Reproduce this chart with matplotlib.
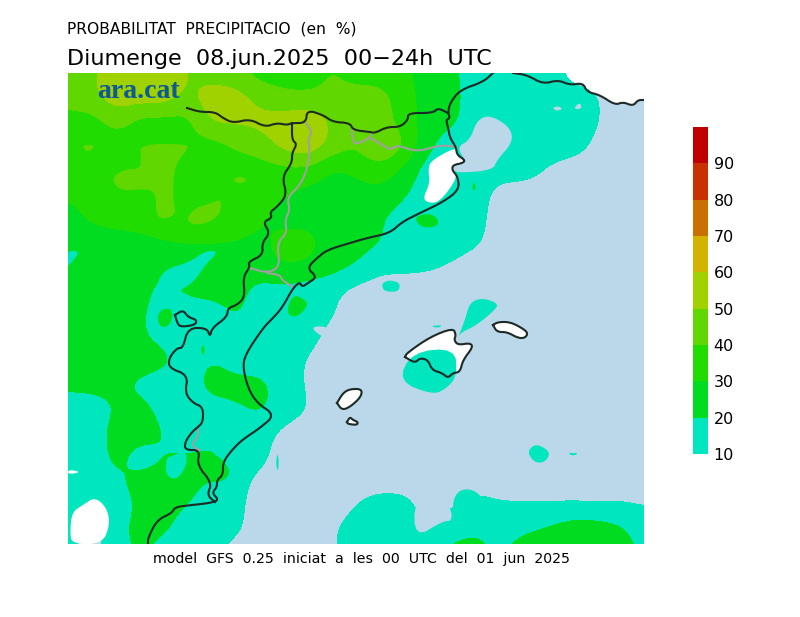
"""Precipitation probability map, rebuilt from values read off the picture."""

import matplotlib
matplotlib.use("Agg")
import matplotlib.pyplot as plt
from matplotlib.colors import ListedColormap
import numpy as np

# map coordinates of the grid nodes
grid_x = [68, 92, 116, 140, 164, 188, 212, 236, 260, 284, 308, 332, 356,
          380, 404, 428, 452, 476, 500, 524, 548, 572, 596, 620, 644]
grid_y = [73, 97, 121, 145, 169, 193, 217, 241, 265, 289, 313,
          337, 361, 385, 409, 433, 457, 481, 505, 529, 553]

# probability (%) per node, row by row from the north
prob = [
    [45, 48, 56, 56, 56, 50, 44, 42, 35, 35, 35, 41, 35, 35, 32, 25, 22, 15, 15, 15, 15, 6, 5, 5, 5],
    [45, 48, 56, 56, 56, 47, 57, 55, 47, 42, 41, 42, 45, 44, 35, 25, 23, 15, 15, 15, 15, 15, 11, 5, 5],
    [35, 35, 44, 35, 35, 36, 52, 52, 53, 55, 59, 48, 45, 45, 35, 25, 22, 15, 15, 15, 15, 15, 11, 5, 5],
    [35, 35, 35, 38, 38, 38, 35, 41, 45, 54, 59, 47, 40, 53, 41, 22, 14, 15, 15, 15, 15, 15, 8, 5, 5],
    [35, 35, 36, 36, 36, 35, 35, 35, 35, 37, 38, 28, 32, 36, 28, 14, 14, 15, 15, 15, 9, 5, 5, 5, 5],
    [31, 33, 36, 36, 36, 33, 34, 34, 33, 31, 26, 26, 26, 28, 21, 14, 13, 15, 6, 5, 5, 5, 5, 5, 5],
    [27, 32, 35, 35, 36, 34, 34, 35, 31, 27, 27, 25, 25, 21, 15, 15, 15, 14, 5, 5, 5, 5, 5, 5, 5],
    [24, 25, 25, 27, 30, 32, 32, 30, 28, 33, 33, 26, 24, 21, 14, 15, 15, 12, 5, 5, 5, 5, 5, 5, 5],
    [24, 25, 25, 25, 22, 21, 21, 24, 27, 31, 30, 25, 20, 13, 13, 12, 9, 5, 5, 5, 5, 5, 5, 5, 5],
    [25, 25, 25, 24, 16, 23, 25, 24, 16, 17, 14, 12, 7, 5, 5, 5, 5, 5, 5, 5, 5, 5, 5, 5, 5],
    [25, 25, 25, 21, 16, 14, 14, 22, 14, 14, 14, 11, 5, 5, 5, 5, 5, 5, 5, 5, 5, 5, 5, 5, 5],
    [25, 25, 25, 21, 17, 14, 13, 15, 15, 15, 13, 7, 5, 5, 5, 5, 5, 5, 5, 5, 5, 5, 5, 5, 5],
    [25, 25, 25, 25, 23, 15, 21, 15, 13, 14, 9, 5, 5, 5, 5, 5, 5, 5, 5, 5, 5, 5, 5, 5, 5],
    [23, 24, 23, 17, 14, 15, 24, 24, 24, 14, 9, 5, 5, 5, 5, 5, 5, 5, 5, 5, 5, 5, 5, 5, 5],
    [13, 13, 21, 24, 16, 15, 15, 18, 22, 15, 10, 5, 5, 5, 5, 5, 5, 5, 5, 5, 5, 5, 5, 5, 5],
    [13, 13, 25, 25, 20, 14, 14, 14, 14, 7, 5, 5, 5, 5, 5, 5, 5, 5, 5, 5, 5, 5, 5, 5, 5],
    [13, 13, 24, 14, 20, 21, 24, 15, 13, 5, 5, 5, 5, 5, 5, 5, 5, 5, 5, 5, 5, 5, 5, 5, 5],
    [13, 13, 18, 24, 24, 24, 17, 14, 7, 5, 5, 5, 5, 5, 5, 5, 5, 5, 5, 5, 5, 5, 5, 5, 5],
    [12, 8, 14, 22, 24, 20, 15, 13, 5, 5, 5, 5, 10, 15, 14, 5, 9, 14, 11, 11, 10, 10.5, 9.5, 10.5, 9.5],
    [11, 5, 15, 25, 22, 14, 14, 12, 5, 5, 5, 9, 14, 15, 15, 10, 15, 19, 15, 18, 21, 26, 26, 22, 15],
    [14, 7, 15, 22, 14, 14, 12, 6, 5, 5, 5, 8, 15, 15, 15, 15, 24, 24, 18, 26, 28, 28, 31, 25, 18],
]

levels = [10, 20, 30, 40, 50, 60, 70, 80, 90, 100]
tick_labels = [10, 20, 30, 40, 50, 60, 70, 80, 90]
band_colors = ["#00e6be", "#00dc20", "#20dc00", "#60d800", "#a0d200",
               "#d2b400", "#c87000", "#c83200", "#c00000"]
SEA = "#bbd7ea"
TEAL = band_colors[0]
GREEN = band_colors[1]
LIGHT_GREEN = band_colors[3]

# land where the probability stays below 10 %
land_north = [(513, 73), (527, 75), (543, 84), (558, 80), (570, 85), (583, 83), (587, 92), (600, 95),
              (615, 105), (623, 102), (633, 106), (638, 100), (644, 100), (644, 73)]
delta_patch = [(456, 147), (432, 160), (428, 168), (430, 183), (423, 198), (428, 203), (440, 202),
               (458, 177), (452, 170), (453, 165), (463, 163), (465, 160), (457, 155)]
southwest_patch = [(70, 532), (72, 512), (83, 505), (95, 497), (107, 508), (110, 525), (102, 544), (72, 544)]
west_sliver = [(68, 470), (78, 471), (78, 473), (68, 474)]
mallorca = [(405, 357), (407, 353), (430, 337), (453, 328), (456, 335), (454, 340), (458, 345), (470, 343),
            (473, 347), (463, 360), (460, 372), (453, 373), (448, 378), (442, 373), (432, 370), (428, 360),
            (420, 358), (415, 363), (405, 357)]
menorca = [(493, 325), (498, 322), (510, 322), (522, 328), (528, 333), (525, 338), (518, 338), (507, 332),
           (497, 332), (493, 325)]
ibiza = [(337, 403), (343, 393), (350, 389), (362, 389), (361, 397), (350, 407), (342, 410), (337, 403)]
formentera = [(347, 422), (350, 417), (353, 420), (358, 422), (357, 425), (348, 424), (347, 422)]

# small areas too fine for the grid
mallorca_teal = [(398, 381), (412, 352), (455, 348), (457, 376), (447, 388), (433, 395)]
teal_blobs = [
    [(457, 340), (465, 320), (470, 302), (483, 298), (497, 303), (497, 308), (477, 325), (460, 333)],
    [(382, 283), (390, 280), (400, 283), (399, 291), (390, 292), (383, 290)],
    [(527, 452), (535, 444), (545, 448), (550, 454), (545, 462), (535, 463)],
    [(567, 453), (579, 453), (573, 456)],
    [(430, 326), (443, 325), (438, 328)],
    [(277, 453), (279, 460), (278, 472), (276, 465)],
    [(166, 458), (172, 456), (186, 450), (187, 465), (177, 480), (166, 476)],
    [(66, 251), (80, 251), (72, 262), (66, 268)],
    [(163, 270), (190, 262), (205, 251), (219, 251), (205, 265), (194, 282), (177, 292), (170, 305), (176, 316),
     (148, 314), (155, 290)],
    [(451, 510), (457, 490), (475, 489), (491, 509), (470, 518)],
]
green_blobs = [
    [(157, 320), (160, 310), (170, 308), (173, 315), (170, 325), (162, 328)],
    [(287, 312), (290, 300), (296, 295), (305, 300), (308, 305), (300, 315), (292, 317)],
    [(472, 190), (474, 180), (476, 190)],
    [(201, 350), (203, 344), (205, 350), (203, 356)],
    [(415, 217), (428, 213), (438, 218), (438, 226), (425, 228), (418, 224)],
    [(187, 453), (217, 453), (232, 472), (222, 482), (207, 482), (197, 492), (190, 502), (175, 490), (187, 475)],
]
light_green_blobs = [
    [(140, 144), (188, 144), (187, 150), (174, 166), (173, 200), (176, 212), (170, 218), (156, 218), (156, 191),
     (140, 189), (120, 191), (111, 178), (125, 169), (140, 169), (141, 158)],
    [(187, 218), (195, 208), (212, 203), (221, 199), (221, 212), (212, 221), (198, 225), (190, 223)],
    [(81, 145), (96, 145), (88, 153)],
    [(232, 180), (240, 176), (248, 180), (240, 184)],
]
sea_blobs = [
    [(457, 147), (470, 140), (477, 120), (490, 115), (510, 127), (513, 142), (497, 160), (493, 170), (460, 173),
     (452, 170), (453, 165), (463, 163), (465, 160)],
    [(552, 108), (558, 106), (563, 109), (557, 111)],
    [(573, 109), (580, 102), (582, 109)],
    [(325, 326), (310, 327), (323, 338), (332, 332)],
    [(414, 500), (415, 538), (443, 521), (452, 521), (451, 508), (440, 500)],
]

# borders and coast
coast_main = [(493, 73), (483, 82), (460, 90), (450, 103), (448, 113), (450, 118), (446, 120), (448, 127),
              (450, 138), (456, 147), (457, 155), (465, 160), (463, 163), (453, 165), (452, 170), (458, 177),
              (459, 190), (443, 202), (420, 213), (402, 222), (390, 233), (367, 238), (350, 243), (327, 250),
              (317, 258), (307, 268), (317, 277), (308, 283), (302, 287), (300, 282), (293, 288), (282, 308),
              (273, 318), (263, 328), (245, 355), (243, 368), (248, 388), (257, 403), (275, 415), (260, 428),
              (242, 440), (232, 450), (223, 462), (223, 475), (217, 480), (217, 487), (212, 493), (219, 500),
              (210, 503), (192, 505), (175, 507), (172, 513), (157, 520), (148, 538), (148, 544)]
coast_north = land_north[:13]
border_north = [(187, 108), (200, 112), (215, 112), (223, 118), (233, 123), (250, 119), (265, 127), (277, 123),
                (287, 125), (292, 123), (306, 123), (307, 110), (323, 115), (333, 122), (350, 123), (353, 130),
                (370, 132), (375, 133), (387, 127), (400, 127), (408, 120), (408, 113), (433, 113), (438, 108),
                (448, 113)]
border_west = [(292, 123), (292, 140), (297, 144), (292, 153), (292, 163), (282, 177), (287, 195), (277, 207),
               (270, 212), (272, 218), (263, 222), (270, 233), (262, 243), (263, 255), (248, 262), (250, 267),
               (243, 277), (245, 297), (237, 305), (228, 308), (227, 317), (212, 328), (210, 337), (207, 328),
               (188, 328), (183, 348), (177, 348), (169, 358), (169, 368), (188, 375), (185, 393), (193, 403),
               (203, 407), (203, 422), (198, 427), (192, 432), (185, 442), (185, 450), (200, 450), (197, 465),
               (212, 483), (207, 495), (215, 502)]
lake = [(175, 315), (183, 310), (188, 317), (197, 320), (195, 325), (180, 327), (177, 322), (175, 315)]
grey_lines = [
    [(306, 123), (312, 132), (308, 140), (310, 150), (307, 170), (300, 185), (287, 198), (290, 210), (285, 220),
     (287, 233), (277, 243), (280, 267), (267, 273), (250, 268)],
    [(267, 273), (280, 275), (282, 280), (293, 287)],
    [(352, 130), (353, 142), (357, 144), (370, 138), (372, 133)],
    [(370, 138), (383, 145), (390, 150), (397, 145), (417, 152), (440, 145), (456, 147)],
    [(198, 427), (198, 437), (193, 442), (193, 447), (200, 450)],
]


def soften(poly, closed=False, rounds=2):
    """Chaikin corner cutting, the traced outlines have few vertices."""
    pts = np.array(poly, dtype=float)
    for _ in range(rounds):
        nxt = np.roll(pts, -1, axis=0) if closed else pts[1:]
        cur = pts if closed else pts[:-1]
        q = 0.75 * cur + 0.25 * nxt
        r = 0.25 * cur + 0.75 * nxt
        mid = np.empty((2 * len(cur), 2))
        mid[0::2] = q
        mid[1::2] = r
        pts = mid if closed else np.vstack([pts[:1], mid, pts[-1:]])
    return pts


def fine_field(xs, ys, values, factor=6, passes=2):
    """Resample the node values on a finer grid and blur, contours come out round."""
    values = np.array(values, dtype=float)
    fx = np.linspace(xs[0], xs[-1], (len(xs) - 1) * factor + 1)
    fy = np.linspace(ys[0], ys[-1], (len(ys) - 1) * factor + 1)
    tmp = np.array([np.interp(fx, xs, row) for row in values])
    z = np.array([np.interp(fy, ys, col) for col in tmp.T]).T
    kernel = np.ones(5) / 5
    pad = len(kernel) // 2
    for _ in range(passes):
        z = np.pad(z, pad, mode="edge")
        z = np.apply_along_axis(np.convolve, 0, z, kernel, mode="valid")
        z = np.apply_along_axis(np.convolve, 1, z, kernel, mode="valid")
    return fx, fy, z


def fill_poly(ax, poly, color, zorder):
    pts = soften(poly, closed=True)
    ax.fill(pts[:, 0], pts[:, 1], color=color, lw=0, zorder=zorder)


def draw_line(ax, poly, color, lw, zorder):
    pts = soften(poly)
    ax.plot(pts[:, 0], pts[:, 1], color=color, lw=lw, zorder=zorder, solid_joinstyle="round")


def main():
    fig = plt.figure(figsize=(8, 6.17), dpi=100)
    ax = fig.add_axes([68 / 800, 73 / 617, 576 / 800, 471 / 617])
    ax.set_facecolor(SEA)

    # land_north sits under the field: the teal reaches over it
    xs, ys = zip(*land_north)
    ax.fill(xs, ys, color="white", lw=0, zorder=1)
    fx, fy, z = fine_field(grid_x, grid_y, prob)
    ax.contourf(fx, fy, z, levels=levels, colors=band_colors, zorder=2)

    # Mallorca is only white north of the teal area
    fill_poly(ax, mallorca, "white", 2.5)
    fill_poly(ax, mallorca_teal, TEAL, 2.6)
    for poly in teal_blobs:
        fill_poly(ax, poly, TEAL, 3)
    for poly in green_blobs:
        fill_poly(ax, poly, GREEN, 3)
    for poly in light_green_blobs:
        fill_poly(ax, poly, LIGHT_GREEN, 3)
    for poly in sea_blobs:
        fill_poly(ax, poly, SEA, 3)
    for poly in [delta_patch, southwest_patch, west_sliver, menorca, ibiza, formentera]:
        fill_poly(ax, poly, "white", 3)

    for poly in grey_lines:
        draw_line(ax, poly, "#a0a0a0", 1.5, 4)
    for poly in [coast_main, coast_north, border_north, border_west, lake, mallorca, menorca, ibiza, formentera]:
        draw_line(ax, poly, "#1e2a26", 1.5, 5)

    ax.set_xlim(68, 644)
    ax.set_ylim(544, 73)
    ax.set_xticks([])
    ax.set_yticks([])
    for spine in ax.spines.values():
        spine.set_visible(False)

    ax.text(97, 91, "ara.cat", family="Liberation Serif", weight="bold", fontsize=20,
            color="#0c5a96", va="center", ha="left", zorder=6)

    # colour bar
    cax = fig.add_axes([693 / 800, (617 - 454) / 617, 15 / 800, 327 / 617])
    cax.pcolormesh([0, 1], levels, np.arange(9).reshape(-1, 1), cmap=ListedColormap(band_colors))
    cax.set_xticks([])
    cax.set_yticks(tick_labels)
    cax.yaxis.tick_right()
    cax.tick_params(length=0, labelsize=11.5, pad=4)
    for spine in cax.spines.values():
        spine.set_visible(False)

    fig.text(67 / 800, 1 - 29 / 617, "PROBABILITAT  PRECIPITACIO  (en  %)", fontsize=11.2, va="center")
    fig.text(67 / 800, 1 - 59 / 617, "Diumenge  08.jun.2025  00\u221224h  UTC", fontsize=16, va="center")
    fig.text(153 / 800, 1 - 559 / 617, "model  GFS  0.25  iniciat  a  les  00  UTC  del  01  jun  2025",
             fontsize=10.2, va="center")

    fig.savefig("out.png", dpi=100)


if __name__ == "__main__":
    main()
